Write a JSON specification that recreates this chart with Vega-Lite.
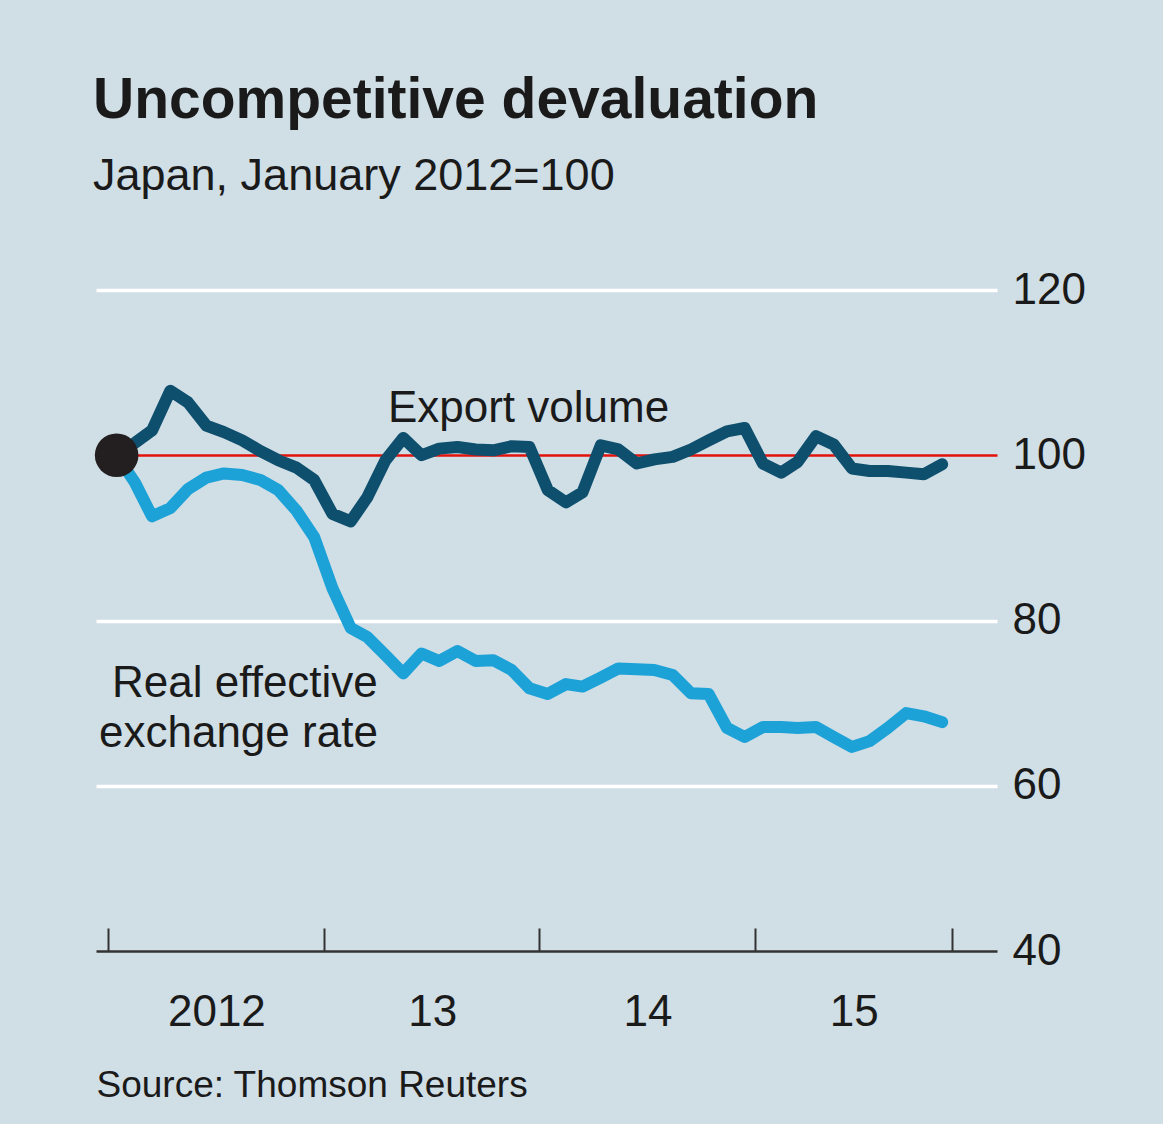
{
  "$schema": "https://vega.github.io/schema/vega-lite/v6.json",
  "width": 901,
  "height": 661,
  "autosize": "none",
  "padding": {"left": 96, "top": 290, "right": 166, "bottom": 173},
  "background": "#d0dee6",
  "config": {"view": {"stroke": null}, "font": "Liberation Sans"},
  "title": {
    "text": "Uncompetitive devaluation",
    "subtitle": "Japan, January 2012=100",
    "anchor": "start",
    "frame": "group",
    "font": "Liberation Sans",
    "fontSize": 57,
    "fontWeight": "bold",
    "color": "#1a1a1a",
    "subtitleFont": "Liberation Sans",
    "subtitleFontSize": 45,
    "subtitleColor": "#1a1a1a",
    "subtitlePadding": 24,
    "offset": 68,
    "dx": -3
  },
  "datasets": {
    "series": [
      {"date": "2012-01-15", "export": 100.0, "reer": 100.0},
      {"date": "2012-02-15", "export": 101.5, "reer": 96.7},
      {"date": "2012-03-15", "export": 103.0, "reer": 92.6},
      {"date": "2012-04-15", "export": 107.8, "reer": 93.6},
      {"date": "2012-05-15", "export": 106.4, "reer": 95.9},
      {"date": "2012-06-15", "export": 103.6, "reer": 97.3},
      {"date": "2012-07-15", "export": 102.8, "reer": 97.8},
      {"date": "2012-08-15", "export": 101.8, "reer": 97.6},
      {"date": "2012-09-15", "export": 100.5, "reer": 97.0},
      {"date": "2012-10-15", "export": 99.4, "reer": 95.8},
      {"date": "2012-11-15", "export": 98.5, "reer": 93.3},
      {"date": "2012-12-15", "export": 97.0, "reer": 90.1},
      {"date": "2013-01-15", "export": 92.9, "reer": 83.9},
      {"date": "2013-02-15", "export": 92.0, "reer": 79.1},
      {"date": "2013-03-15", "export": 94.9, "reer": 78.0},
      {"date": "2013-04-15", "export": 99.4, "reer": 75.8},
      {"date": "2013-05-15", "export": 102.1, "reer": 73.6},
      {"date": "2013-06-15", "export": 100.0, "reer": 76.0},
      {"date": "2013-07-15", "export": 100.8, "reer": 75.1},
      {"date": "2013-08-15", "export": 101.0, "reer": 76.3},
      {"date": "2013-09-15", "export": 100.7, "reer": 75.1},
      {"date": "2013-10-15", "export": 100.6, "reer": 75.2},
      {"date": "2013-11-15", "export": 101.1, "reer": 74.0},
      {"date": "2013-12-15", "export": 101.0, "reer": 71.8},
      {"date": "2014-01-15", "export": 95.8, "reer": 71.1},
      {"date": "2014-02-15", "export": 94.3, "reer": 72.3},
      {"date": "2014-03-15", "export": 95.5, "reer": 72.0},
      {"date": "2014-04-15", "export": 101.2, "reer": 73.1},
      {"date": "2014-05-15", "export": 100.7, "reer": 74.2},
      {"date": "2014-06-15", "export": 99.0, "reer": 74.1},
      {"date": "2014-07-15", "export": 99.5, "reer": 74.0},
      {"date": "2014-08-15", "export": 99.8, "reer": 73.4},
      {"date": "2014-09-15", "export": 100.7, "reer": 71.2},
      {"date": "2014-10-15", "export": 101.8, "reer": 71.1},
      {"date": "2014-11-15", "export": 102.9, "reer": 67.0},
      {"date": "2014-12-15", "export": 103.3, "reer": 65.9},
      {"date": "2015-01-15", "export": 99.0, "reer": 67.1},
      {"date": "2015-02-15", "export": 97.9, "reer": 67.1},
      {"date": "2015-03-15", "export": 99.2, "reer": 67.0},
      {"date": "2015-04-15", "export": 102.3, "reer": 67.1},
      {"date": "2015-05-15", "export": 101.3, "reer": 65.9},
      {"date": "2015-06-15", "export": 98.4, "reer": 64.7},
      {"date": "2015-07-15", "export": 98.1, "reer": 65.4},
      {"date": "2015-08-15", "export": 98.1, "reer": 67.0},
      {"date": "2015-09-15", "export": 97.9, "reer": 68.8},
      {"date": "2015-10-15", "export": 97.7, "reer": 68.4},
      {"date": "2015-11-15", "export": 98.9, "reer": 67.7}
    ],
    "start": [{"date": "2012-01-15", "value": 100}],
    "exportLabel": [{"date": "2013-04-19", "value": 104.0, "text": "Export volume"}],
    "reerLabel": [{"date": "2013-04-02", "value": 70.7, "text": "Real effective\nexchange rate"}]
  },
  "layer": [
    {
      "data": {"name": "series"},
      "transform": [{"fold": ["export", "reer"], "as": ["series", "value"]}],
      "mark": {"type": "line", "strokeWidth": 12, "strokeJoin": "round", "strokeCap": "round"},
      "encoding": {
        "x": {
          "field": "date",
          "type": "temporal",
          "scale": {
            "type": "utc",
            "domain": [
              {"year": 2011, "month": 12, "date": 11, "utc": true},
              {"year": 2016, "month": 2, "date": 16, "utc": true}
            ]
          },
          "axis": {
            "title": "Source: Thomson Reuters",
            "titleFont": "Liberation Sans",
            "titleFontSize": 37,
            "titleFontWeight": "normal",
            "titleColor": "#1a1a1a",
            "titleAnchor": "start",
            "titleAlign": "left",
            "titlePadding": 33,
            "values": [
              {"year": 2012, "month": 1, "date": 1, "utc": true},
              {"year": 2013, "month": 1, "date": 1, "utc": true},
              {"year": 2014, "month": 1, "date": 1, "utc": true},
              {"year": 2015, "month": 1, "date": 1, "utc": true},
              {"year": 2015, "month": 12, "date": 1, "utc": true}
            ],
            "labelExpr": "utcmonth(datum.value) == 11 ? '' : (utcyear(datum.value) == 2012 ? '2012' : utcFormat(datum.value, '%y'))",
            "labelOffset": {"condition": {"test": "utcyear(datum.value) == 2015", "value": 99}, "value": 108},
            "labelAlign": "center",
            "labelFlush": false,
            "labelOverlap": false,
            "labelBound": false,
            "labelFont": "Liberation Sans",
            "labelFontSize": 44,
            "labelColor": "#1a1a1a",
            "labelPadding": 62,
            "tickSize": -23,
            "tickWidth": 2,
            "tickColor": "#333333",
            "domainColor": "#333333",
            "domainWidth": 2.5,
            "grid": false
          }
        },
        "y": {
          "field": "value",
          "type": "quantitative",
          "scale": {"domain": [40, 120], "nice": false, "zero": false},
          "axis": {
            "orient": "right",
            "title": null,
            "values": [40, 60, 80, 100, 120],
            "domain": false,
            "ticks": false,
            "labelFont": "Liberation Sans",
            "labelFontSize": 44,
            "labelColor": "#1a1a1a",
            "labelPadding": 15,
            "labelAlign": "left",
            "labelBaseline": "middle",
            "grid": true,
            "gridColor": {"condition": {"test": "datum.value == 100", "value": "#e3120b"}, "value": "#ffffff"},
            "gridWidth": {"condition": {"test": "datum.value == 100", "value": 2.5}, "value": 3.5},
            "gridOpacity": {"condition": {"test": "datum.value == 40", "value": 0}, "value": 1}
          }
        },
        "color": {
          "field": "series",
          "type": "nominal",
          "scale": {"domain": ["export", "reer"], "range": ["#0e4f6e", "#1da2d8"]},
          "legend": null
        }
      }
    },
    {
      "data": {"name": "start"},
      "mark": {"type": "point", "shape": "circle", "filled": true, "opacity": 1, "color": "#231f20", "size": 1900},
      "encoding": {
        "x": {"field": "date", "type": "temporal"},
        "y": {"field": "value", "type": "quantitative"}
      }
    },
    {
      "data": {"name": "exportLabel"},
      "mark": {"type": "text", "font": "Liberation Sans", "fontSize": 44, "color": "#1a1a1a", "align": "left", "baseline": "alphabetic"},
      "encoding": {
        "x": {"field": "date", "type": "temporal"},
        "y": {"field": "value", "type": "quantitative"},
        "text": {"field": "text"}
      }
    },
    {
      "data": {"name": "reerLabel"},
      "mark": {"type": "text", "font": "Liberation Sans", "fontSize": 44, "color": "#1a1a1a", "align": "right", "baseline": "alphabetic", "lineBreak": "\n", "lineHeight": 50},
      "encoding": {
        "x": {"field": "date", "type": "temporal"},
        "y": {"field": "value", "type": "quantitative"},
        "text": {"field": "text"}
      }
    }
  ]
}
